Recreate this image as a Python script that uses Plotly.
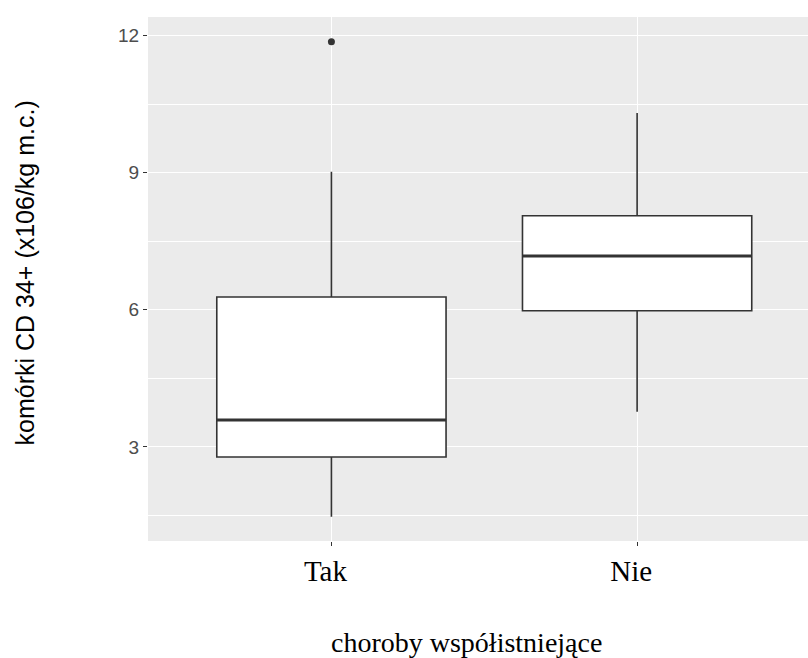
import plotly.graph_objects as go

categories = ["Tak", "Nie"]
q1 = [2.78, 5.98]
median = [3.59, 7.18]
q3 = [6.28, 8.06]
lower_whisker = [1.47, 3.77]
upper_whisker = [9.02, 10.31]
outlier_cat = ["Tak"]
outlier_val = [11.87]
y_ticks = [3, 6, 9, 12]
minor_vals = [1.5, 4.5, 7.5, 10.5]

x_title = "choroby współistniejące"
y_title = "komórki CD 34+ (x106/kg m.c.)"

LINE = "#333333"
BOX_W = 0.75
fig = go.Figure()
fig.add_trace(go.Box(
    x=categories, q1=q1, median=median, q3=q3,
    lowerfence=lower_whisker, upperfence=upper_whisker,
    width=BOX_W,
    fillcolor="white", line=dict(color=LINE, width=1.6),
    whiskerwidth=0, boxpoints=False, showlegend=False,
    hoverinfo="skip",
))
fig.add_trace(go.Scatter(
    x=outlier_cat, y=outlier_val, mode="markers",
    marker=dict(color=LINE, size=7), showlegend=False,
))
# thicker median lines like ggplot
for i, m in enumerate(median):
    fig.add_shape(type="line", xref="x", yref="y",
                  x0=i - BOX_W / 2, x1=i + BOX_W / 2, y0=m, y1=m,
                  line=dict(color=LINE, width=3))

fig.update_layout(
    width=808, height=658,
    margin=dict(l=148, r=0, t=17, b=117),
    paper_bgcolor="white", plot_bgcolor="#EBEBEB",
    xaxis=dict(
        type="category", categoryorder="array", categoryarray=categories,
        range=[-0.6, 1.559], showgrid=True, gridcolor="white", gridwidth=1.4,
        zeroline=False, ticks="outside", ticklen=4, tickcolor="#333333",
        tickfont=dict(family="Liberation Serif", size=29, color="black"),
        ticklabelshift=-6,
        showline=False,
    ),
    yaxis=dict(
        range=[0.94, 12.41], tickvals=y_ticks, showgrid=True,
        gridcolor="white", gridwidth=1.4, zeroline=False,
        ticks="outside", ticklen=4, tickcolor="#333333",
        tickfont=dict(family="Liberation Sans", size=19, color="#4D4D4D"),
        minor=dict(tickvals=minor_vals, showgrid=True, gridcolor="white",
                   gridwidth=1.1, ticks=""),
    ),
    annotations=[
        dict(text=x_title, xref="paper", yref="paper", x=0.4826, y=-0.193,
             xanchor="center", yanchor="middle", showarrow=False,
             font=dict(family="Liberation Serif", size=28, color="black")),
        dict(text=y_title, xref="paper", yref="paper", x=-0.186, y=0.511,
             xanchor="center", yanchor="middle", showarrow=False, textangle=-90,
             font=dict(family="Liberation Sans", size=25, color="black")),
    ],
)

fig.write_html("out.html")
